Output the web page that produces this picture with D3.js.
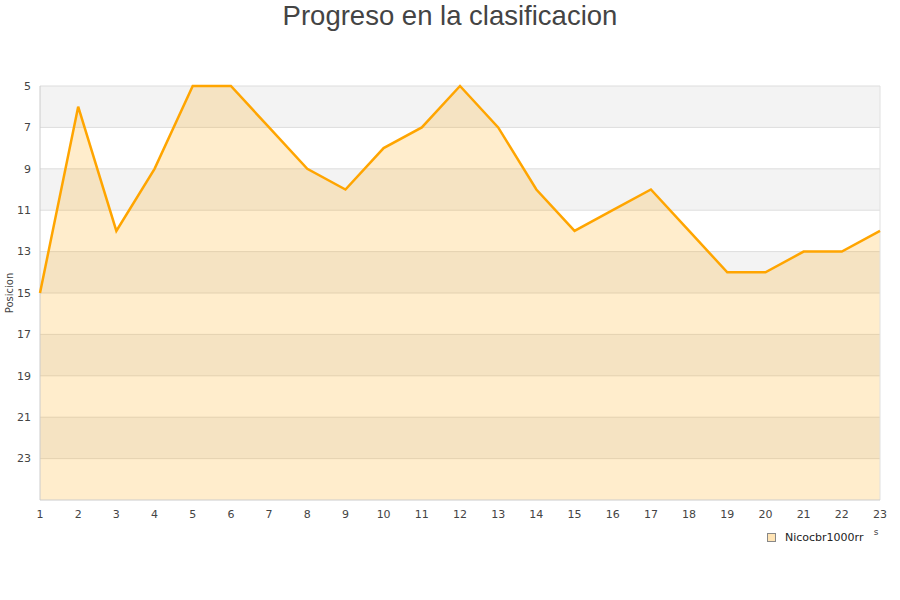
<!DOCTYPE html>
<html lang="es">
<head>
    <meta charset="UTF-8">
    <script src="https://d3js.org/d3.v7.min.js"></script>
    <style>
        body { margin: 0; background: #fff; }
        svg text { font-family: "DejaVu Sans", sans-serif; fill: #444; }
        #title { font-family: "Liberation Sans", Arial, sans-serif; font-size: 27.5px; }
    </style>
    <title>Progreso en la clasificacion</title>
</head>
<body>
<svg id="chart" width="900" height="600"></svg>
<script>
    // jornadas y posiciones
    var jornadas = [1, 2, 3, 4, 5, 6, 7, 8, 9, 10, 11, 12, 13, 14, 15, 16, 17, 18, 19, 20, 21, 22, 23];
    var posiciones = [15, 6, 12, 9, 5, 5, 7, 9, 10, 8, 7, 5, 7, 10, 12, 11, 10, 12, 14, 14, 13, 13, 12];
    var yTicks = [5, 7, 9, 11, 13, 15, 17, 19, 21, 23];
    var serieNombre = "Nicocbr1000rr";

    var svg = d3.select("#chart");
    var plotLeft = 40, plotRight = 880, plotTop = 86, plotBottom = 500;

    var x = d3.scaleLinear().domain([1, 23]).range([plotLeft, plotRight]);
    var y = d3.scaleLinear().domain([5, 25]).range([plotTop, plotBottom]);

    svg.append("text")
        .attr("id", "title")
        .attr("x", 450)
        .attr("y", 25)
        .attr("text-anchor", "middle")
        .text("Progreso en la clasificacion");

    // bandas alternas
    svg.selectAll(".band")
        .data(yTicks.filter(function (d, i) { return i % 2 === 0; }))
        .enter().append("rect")
        .attr("x", plotLeft)
        .attr("width", plotRight - plotLeft)
        .attr("y", function (d) { return y(d); })
        .attr("height", function (d) { return y(d + 2) - y(d); })
        .attr("fill", "#f3f3f3");

    // rejilla
    svg.selectAll(".grid")
        .data(yTicks)
        .enter().append("line")
        .attr("x1", plotLeft).attr("x2", plotRight)
        .attr("y1", function (d) { return y(d); })
        .attr("y2", function (d) { return y(d); })
        .attr("stroke", "#dddddd")
        .attr("stroke-width", 1);

    var puntos = jornadas.map(function (j, i) { return [j, posiciones[i]]; });

    var area = d3.area()
        .x(function (d) { return x(d[0]); })
        .y0(y(25))
        .y1(function (d) { return y(d[1]); });

    var line = d3.line()
        .x(function (d) { return x(d[0]); })
        .y(function (d) { return y(d[1]); });

    svg.append("path")
        .datum(puntos)
        .attr("d", area)
        .attr("fill", "#ffa500")
        .attr("fill-opacity", 0.2);

    // marco
    svg.append("line").attr("x1", plotLeft).attr("x2", plotLeft).attr("y1", plotTop).attr("y2", plotBottom)
        .attr("stroke", "#cccccc");
    svg.append("line").attr("x1", plotRight).attr("x2", plotRight).attr("y1", plotTop).attr("y2", plotBottom)
        .attr("stroke", "#e0e0e0");
    svg.append("line").attr("x1", plotLeft).attr("x2", plotRight).attr("y1", plotBottom).attr("y2", plotBottom)
        .attr("stroke", "#cccccc");

    svg.append("path")
        .datum(puntos)
        .attr("d", line)
        .attr("fill", "none")
        .attr("stroke", "#ffa500")
        .attr("stroke-width", 2.5);

    // etiquetas eje y
    svg.selectAll(".ylab")
        .data(yTicks)
        .enter().append("text")
        .attr("x", 31)
        .attr("y", function (d) { return y(d); })
        .attr("dy", "0.35em")
        .attr("text-anchor", "end")
        .style("font-size", "11px")
        .text(function (d) { return d; });

    // etiquetas eje x
    svg.selectAll(".xlab")
        .data(jornadas)
        .enter().append("text")
        .attr("x", function (d) { return x(d); })
        .attr("y", 518)
        .attr("text-anchor", "middle")
        .style("font-size", "11px")
        .text(function (d) { return d; });

    svg.append("text")
        .attr("transform", "translate(13," + y(15) + ") rotate(-90)")
        .attr("text-anchor", "middle")
        .style("font-size", "10px")
        .text("Posicion");

    svg.append("text")
        .attr("x", 876)
        .attr("y", 535)
        .attr("text-anchor", "middle")
        .style("font-size", "9px")
        .text("s");

    // leyenda
    svg.append("rect")
        .attr("x", 767.5).attr("y", 533.5)
        .attr("width", 8).attr("height", 8)
        .attr("fill", "#ffe4b5")
        .attr("stroke", "#888");

    svg.append("text")
        .attr("x", 785)
        .attr("y", 541)
        .style("font-size", "11px")
        .style("fill", "#222")
        .text(serieNombre);
</script>
</body>
</html>
